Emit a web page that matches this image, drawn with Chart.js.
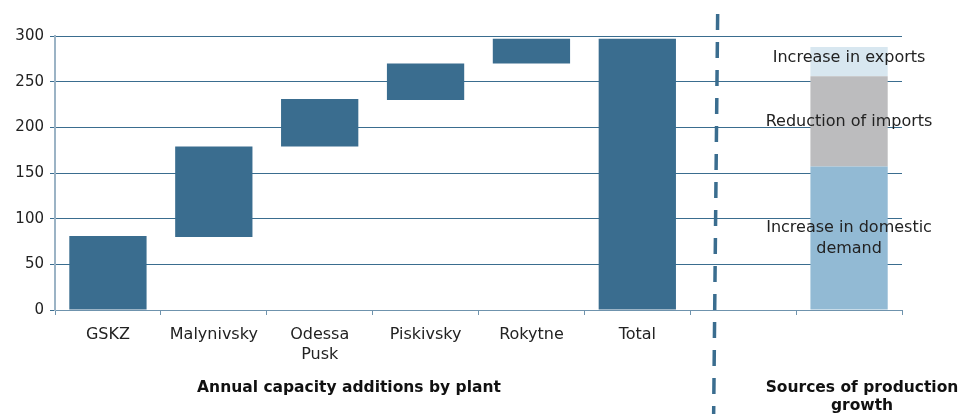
<!DOCTYPE html>
<html>
<head>
<meta charset="utf-8">
<script src="https://cdn.jsdelivr.net/npm/chart.js@4"></script>
<style>
  html, body { margin: 0; padding: 0; background: #fff; }
  #wrap { width: 963px; height: 414px; }
</style>
</head>
<body>
<div id="wrap"><canvas id="chart"></canvas></div>
<script>
const categories = ['GSKZ', 'Malynivsky', ['Odessa', 'Pusk'], 'Piskivsky', 'Rokytne', 'Total', '', ''];
const plantStart = [0, 80, 179, 230, 270, 0];
const plantEnd = [81, 179, 231, 270, 297, 297];
const sourceNames = ['Increase in domestic demand', 'Reduction of imports', 'Increase in exports'];
const sourceValues = [157, 99, 32];
const yTicks = [0, 50, 100, 150, 200, 250, 300];

const blue = '#3a6d8f';
const font = 'DejaVu Sans, Verdana, sans-serif';

// floating bars for the waterfall
const plantData = categories.map((c, i) => i < plantStart.length ? [plantStart[i], plantEnd[i]] : null);

// stacked sources drawn as floating bars on the last category
let base = 0;
const sourceSets = sourceNames.map((name, k) => {
    const data = categories.map(() => null);
    data[7] = [base, base + sourceValues[k]];
    base += sourceValues[k];
    return { label: name, data: data };
});
const sourceColors = ['#92bad4', '#bcbcbe', '#d8e7f0'];

const overlay = {
    id: 'overlay',
    afterDatasetsDraw(chart) {
        const ctx = chart.ctx;
        const x = chart.scales.x;
        const y = chart.scales.y;
        ctx.save();

        // labels inside the sources bar
        ctx.fillStyle = '#222';
        ctx.font = '16px ' + font;
        ctx.textAlign = 'center';
        ctx.textBaseline = 'middle';
        const cx = x.getPixelForValue(7);
        ctx.fillText('Increase in exports', cx, y.getPixelForValue(276));
        ctx.fillText('Reduction of imports', cx, y.getPixelForValue(206));
        ctx.fillText('Increase in domestic', cx, y.getPixelForValue(90));
        ctx.fillText('demand', cx, y.getPixelForValue(67));

        // dashed divider
        const dx = x.getPixelForValue(5.74);
        ctx.strokeStyle = blue;
        ctx.lineWidth = 3.5;
        ctx.setLineDash([16, 12]);
        ctx.beginPath();
        ctx.moveTo(dx + 2, 14);
        ctx.lineTo(dx - 2, 414);
        ctx.stroke();
        ctx.setLineDash([]);

        // group titles
        ctx.fillStyle = '#111';
        ctx.font = 'bold 15.5px ' + font;
        ctx.fillText('Annual capacity additions by plant', 349, 388);
        ctx.fillText('Sources of production', 862, 388);
        ctx.fillText('growth', 862, 406);
        ctx.restore();
    }
};

new Chart(document.getElementById('chart'), {
    type: 'bar',
    data: {
        labels: categories,
        datasets: [
            { label: 'Plants', data: plantData, backgroundColor: blue },
            ...sourceSets.map((s, k) => Object.assign(s, { backgroundColor: sourceColors[k] }))
        ]
    },
    options: {
        responsive: true,
        maintainAspectRatio: false,
        animation: false,
        layout: { padding: { left: 0, right: 61, top: 36, bottom: 0 } },
        datasets: { bar: { grouped: false, barPercentage: 0.73, categoryPercentage: 1 } },
        plugins: { legend: { display: false }, tooltip: { enabled: false } },
        scales: {
            x: {
                grid: { offset: true, drawOnChartArea: false, drawTicks: true, tickLength: 5, color: '#6f93ad' },
                border: { color: '#6f93ad' },
                ticks: { color: '#222', font: { family: font, size: 16, lineHeight: 1.3 }, padding: 9, maxRotation: 0, autoSkip: false },
                afterFit(scale) { scale.height = 104; }
            },
            y: {
                min: 0,
                max: 300,
                afterBuildTicks(scale) { scale.ticks = yTicks.map(v => ({ value: v })); },
                grid: { color: blue, lineWidth: 1, drawTicks: true, tickLength: 5 },
                border: { color: '#9bb3c5', width: 2 },
                ticks: { color: '#222', font: { family: font, size: 15 }, padding: 6 },
                afterFit(scale) { scale.width = 55; }
            }
        }
    },
    plugins: [overlay]
});
</script>
</body>
</html>
